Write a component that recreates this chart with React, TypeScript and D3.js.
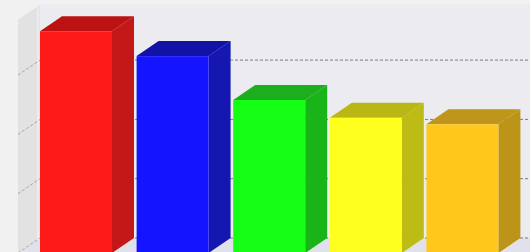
import React from "react";
import * as d3 from "d3";

// chart data
const categories = ["A", "B", "C", "D", "E"];
const values = [37.4, 33.2, 25.8, 22.8, 21.7];
const frontColors = ["#ff1a1a", "#1414ff", "#14ff14", "#ffff1e", "#ffc81a"];
const sideColors = ["#c41818", "#1616b0", "#18b418", "#bcbc14", "#bc9418"];
const topColors = ["#bc1212", "#1212a6", "#1cae1c", "#bab614", "#c0961a"];
const gridTicks = [0, 10, 20, 30];

const width = 530;
const height = 252;
const depthX = 22;
const depthY = -15;

const App = () => {
    const x = d3
        .scaleBand<string>()
        .domain(categories)
        .range([40, 498.4])
        .paddingInner(0.2547)
        .paddingOuter(0);

    // front-plane y scale
    const y = d3.scaleLinear().domain([0, 40]).range([253, 15.8]);

    const base = y(0);
    const wallLeft = 18;
    const wallBack = wallLeft + depthX;
    const top = y(40) + depthY + 4;
    const w = x.bandwidth();

    const pts = (p: [number, number][]) => p.map((d) => d.join(",")).join(" ");

    return (
        <svg
            width={width}
            height={height}
            style={{ position: "absolute", left: 0, top: 0, display: "block" }}
        >
            <rect width={width} height={height} fill="#f1f1f2" />
            {/* back wall */}
            <rect
                x={wallBack}
                y={top}
                width={width - wallBack}
                height={base + depthY - top}
                fill="#ebebf0"
            />
            {/* left wall */}
            <polygon
                points={pts([
                    [wallLeft, top - depthY],
                    [wallBack, top],
                    [wallBack, base + depthY],
                    [wallLeft, base],
                ])}
                fill="#e2e2e3"
            />
            <line x1={wallBack - 2} x2={wallBack - 2} y1={top} y2={base} stroke="#ececec" strokeWidth={2} />
            {/* floor */}
            <polygon
                points={pts([
                    [wallLeft, base],
                    [wallBack, base + depthY],
                    [width, base + depthY],
                    [width, base],
                ])}
                fill="#e0e1ea"
            />
            {/* grid lines */}
            {gridTicks.map((t) => (
                <g key={t} stroke="#7a7a80" strokeWidth={1} strokeDasharray="3 2" fill="none">
                    <line x1={wallBack} x2={width} y1={y(t) + depthY} y2={y(t) + depthY} />
                    <line
                        x1={wallLeft}
                        x2={wallBack}
                        y1={y(t)}
                        y2={y(t) + depthY}
                        strokeOpacity={0.6}
                    />
                </g>
            ))}
            {/* bars */}
            {categories.map((c, i) => {
                const x0 = x(c) as number;
                const yt = y(values[i]);
                return (
                    <g key={c}>
                        <polygon
                            points={pts([
                                [x0 + w, yt],
                                [x0 + w + depthX, yt + depthY],
                                [x0 + w + depthX, base + depthY],
                                [x0 + w, base],
                            ])}
                            fill={sideColors[i]}
                        />
                        <polygon
                            points={pts([
                                [x0, yt],
                                [x0 + depthX, yt + depthY],
                                [x0 + w + depthX, yt + depthY],
                                [x0 + w, yt],
                            ])}
                            fill={topColors[i]}
                        />
                        <rect x={x0} y={yt} width={w} height={base - yt} fill={frontColors[i]} />
                    </g>
                );
            })}
        </svg>
    );
};

export default App;
